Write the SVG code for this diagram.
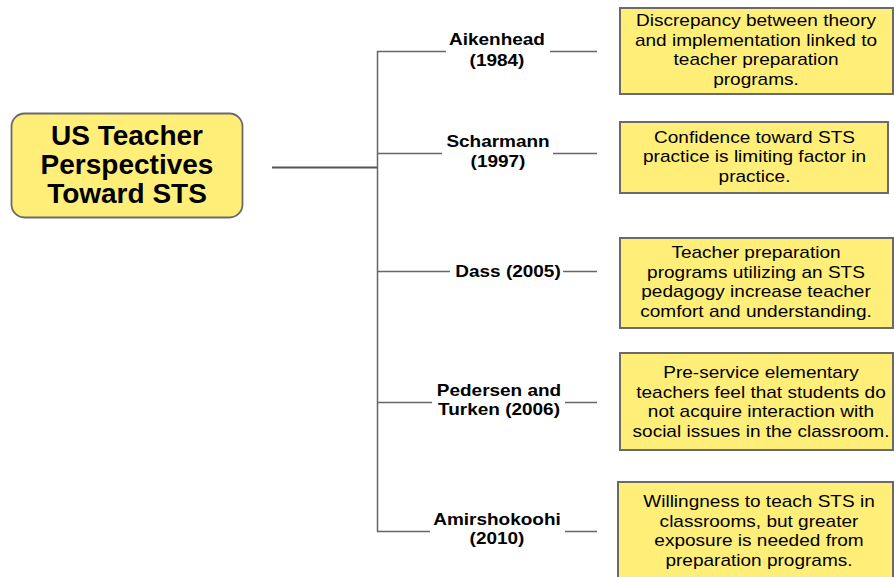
<svg xmlns="http://www.w3.org/2000/svg" width="894" height="577" viewBox="0 0 894 577">
<style>
.box{fill:#FFEF78;stroke:#6a6a6a;stroke-width:2}
.sh{fill:none;stroke:#b5b5b5;stroke-width:1.5}
.main{fill:#FFEF78;stroke:#6a6a6a;stroke-width:1.8}
.title{font-family:"Liberation Sans",Arial,sans-serif;font-weight:bold;font-size:28px;fill:#000;text-anchor:middle}
.lbl{font-family:"Liberation Sans",Arial,sans-serif;font-weight:bold;font-size:16.5px;fill:#000;text-anchor:middle}
.txt{font-family:"Liberation Sans",Arial,sans-serif;font-size:17px;fill:#000;text-anchor:middle}
.ln{stroke:#666;stroke-width:1.5;fill:none}
</style>
<rect width="894" height="577" fill="#fff"/>
<g id="connectors">
<line class="ln" x1="272" y1="167.5" x2="378" y2="167.5" style="stroke-width:2.2;stroke:#555"/>
<line class="ln" x1="377.5" y1="51" x2="377.5" y2="532"/>
<line class="ln" x1="377" y1="51.5" x2="446" y2="51.5"/>
<line class="ln" x1="550" y1="51.5" x2="597" y2="51.5"/>
<line class="ln" x1="377" y1="153.5" x2="442" y2="153.5"/>
<line class="ln" x1="553" y1="153.5" x2="597" y2="153.5"/>
<line class="ln" x1="377" y1="271.5" x2="450" y2="271.5"/>
<line class="ln" x1="563" y1="271.5" x2="597" y2="271.5"/>
<line class="ln" x1="377" y1="402.5" x2="432" y2="402.5"/>
<line class="ln" x1="565" y1="402.5" x2="597" y2="402.5"/>
<line class="ln" x1="377" y1="531.5" x2="430" y2="531.5"/>
<line class="ln" x1="565" y1="531.5" x2="597" y2="531.5"/>
</g>
<g id="main">
<rect class="main" x="11.5" y="113.5" width="231" height="104" rx="13"/>
<text class="title" x="127" y="145">US Teacher</text>
<text class="title" x="127" y="174">Perspectives</text>
<text class="title" x="127" y="203">Toward STS</text>
</g>
<g id="aikenhead" transform="translate(497 0) scale(1.15 1)">
<text class="lbl" x="0" y="45">Aikenhead</text>
<text class="lbl" x="0" y="66">(1984)</text>
</g>
<g id="scharmann" transform="translate(498 0) scale(1.15 1)">
<text class="lbl" x="0" y="147">Scharmann</text>
<text class="lbl" x="0" y="167">(1997)</text>
</g>
<g id="dass" transform="translate(508 0) scale(1.15 1)">
<text class="lbl" x="0" y="277">Dass (2005)</text>
</g>
<g id="pedersen" transform="translate(499 0) scale(1.15 1)">
<text class="lbl" x="0" y="396">Pedersen and</text>
<text class="lbl" x="0" y="415">Turken (2006)</text>
</g>
<g id="amirshokoohi" transform="translate(497 0) scale(1.15 1)">
<text class="lbl" x="0" y="525">Amirshokoohi</text>
<text class="lbl" x="0" y="544">(2010)</text>
</g>
<g id="box1">
<rect class="box" x="620" y="8" width="273" height="86"/>
<g transform="translate(756 0) scale(1.12 1)">
<text class="txt" x="0" y="26.5">Discrepancy between theory</text>
<text class="txt" x="0" y="46">and implementation linked to</text>
<text class="txt" x="0" y="65.5">teacher preparation</text>
<text class="txt" x="0" y="85">programs.</text>
</g>
</g>
<g id="box2">
<rect class="box" x="620" y="122" width="268" height="71"/>
<g transform="translate(754.5 0) scale(1.12 1)">
<text class="txt" x="0" y="143">Confidence toward STS</text>
<text class="txt" x="0" y="162.5">practice is limiting factor in</text>
<text class="txt" x="0" y="182">practice.</text>
</g>
</g>
<g id="box3">
<rect class="box" x="620" y="238" width="273" height="90"/>
<g transform="translate(756 0) scale(1.12 1)">
<text class="txt" x="0" y="258.5">Teacher preparation</text>
<text class="txt" x="0" y="278">programs utilizing an STS</text>
<text class="txt" x="0" y="297.5">pedagogy increase teacher</text>
<text class="txt" x="0" y="317">comfort and understanding.</text>
</g>
</g>
<g id="box4">
<rect class="box" x="620" y="353" width="273" height="97"/>
<g transform="translate(761 0) scale(1.12 1)">
<text class="txt" x="0" y="378.5">Pre-service elementary</text>
<text class="txt" x="0" y="398">teachers feel that students do</text>
<text class="txt" x="0" y="417.5">not acquire interaction with</text>
<text class="txt" x="0" y="437">social issues in the classroom.</text>
</g>
</g>
<g id="box5">
<rect class="box" x="618" y="482" width="275" height="100"/>
<g transform="translate(759 0) scale(1.12 1)">
<text class="txt" x="0" y="507.5">Willingness to teach STS in</text>
<text class="txt" x="0" y="527">classrooms, but greater</text>
<text class="txt" x="0" y="546.5">exposure is needed from</text>
<text class="txt" x="0" y="566">preparation programs.</text>
</g>
</g>
</svg>
